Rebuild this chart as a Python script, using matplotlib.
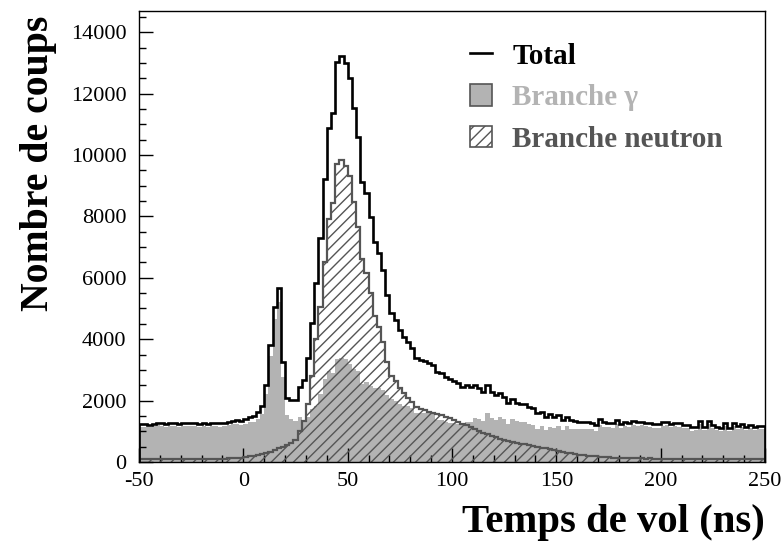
"""Time-of-flight histogram: total, gamma branch and neutron branch."""

import matplotlib
matplotlib.use("Agg")

import numpy as np
import matplotlib.pyplot as plt
from matplotlib.lines import Line2D
from matplotlib.patches import Patch
from matplotlib.ticker import MultipleLocator

# ── Data (2 ns bins from -50 to 250 ns) ──────────────────────────────────────
T_MIN, T_MAX, N_BINS = -50, 250, 150

total = [
    1230, 1240, 1220, 1250, 1280, 1260, 1240, 1260, 1260, 1230,
    1260, 1280, 1260, 1260, 1240, 1260, 1230, 1280, 1280, 1260,
    1280, 1310, 1350, 1370, 1350, 1390, 1475, 1500, 1640, 1830,
    2510, 3800, 5060, 5660, 3270, 2075, 2020, 2020, 2450, 2670,
    3380, 4520, 5820, 7290, 9210, 10870, 11360, 13040, 13230, 12990,
    12500, 11520, 10600, 9130, 8750, 7990, 7175, 6800, 6250, 5440,
    4840, 4625, 4300, 4080, 3920, 3700, 3380, 3320, 3280, 3240,
    3160, 2940, 2900, 2760, 2700, 2640, 2560, 2450, 2510, 2440,
    2500, 2400, 2290, 2500, 2290, 2180, 2240, 2130, 1920, 2040,
    1930, 1880, 1880, 1800, 1750, 1585, 1640, 1475, 1560, 1475,
    1530, 1370, 1475, 1370, 1350, 1310, 1310, 1290, 1260, 1205,
    1390, 1290, 1280, 1260, 1370, 1240, 1310, 1260, 1335, 1290,
    1310, 1280, 1260, 1225, 1225, 1290, 1310, 1240, 1260, 1260,
    1205, 1205, 1130, 1130, 1335, 1130, 1350, 1205, 1150, 1100,
    1280, 1100, 1260, 1170, 1240, 1130, 1205, 1130, 1170, 1170,
]

gamma = [
    1140, 1155, 1125, 1160, 1195, 1170, 1145, 1170, 1170, 1135,
    1170, 1185, 1170, 1165, 1145, 1160, 1130, 1180, 1175, 1155,
    1170, 1195, 1230, 1240, 1210, 1230, 1295, 1300, 1410, 1570,
    2210, 3460, 4670, 5220, 2770, 1515, 1390, 1320, 1450, 1320,
    1480, 1720, 1820, 2230, 2710, 2970, 2910, 3340, 3395, 3340,
    3200, 3040, 2950, 2530, 2600, 2490, 2425, 2400, 2350, 2190,
    2040, 1975, 1900, 1830, 1820, 1750, 1580, 1580, 1590, 1600,
    1570, 1380, 1370, 1290, 1280, 1280, 1250, 1200, 1310, 1300,
    1420, 1390, 1340, 1600, 1430, 1380, 1480, 1410, 1240, 1400,
    1320, 1290, 1310, 1250, 1220, 1085, 1170, 1035, 1150, 1095,
    1180, 1050, 1175, 1090, 1090, 1070, 1090, 1090, 1070, 1025,
    1220, 1130, 1130, 1115, 1230, 1105, 1180, 1135, 1215, 1175,
    1190, 1170, 1145, 1115, 1120, 1180, 1205, 1130, 1160, 1155,
    1095, 1105, 1025, 1030, 1225, 1030, 1245, 1105, 1055, 1000,
    1175, 1005, 1160, 1070, 1145, 1030, 1110, 1030, 1075, 1070,
]

neutron = [
    90, 85, 95, 90, 85, 90, 95, 90, 90, 95,
    90, 95, 90, 95, 95, 100, 100, 100, 105, 105,
    110, 115, 120, 130, 140, 160, 180, 200, 230, 260,
    300, 340, 390, 440, 500, 560, 630, 700, 1000, 1350,
    1900, 2800, 4000, 5060, 6500, 7900, 8450, 9700, 9835, 9650,
    9300, 8480, 7650, 6600, 6150, 5500, 4750, 4400, 3900, 3250,
    2800, 2650, 2400, 2250, 2100, 1950, 1800, 1740, 1690, 1640,
    1590, 1560, 1530, 1470, 1420, 1360, 1310, 1250, 1200, 1140,
    1080, 1010, 950, 900, 860, 800, 760, 720, 680, 640,
    610, 590, 570, 550, 530, 500, 470, 440, 410, 380,
    350, 320, 300, 280, 260, 240, 220, 200, 190, 180,
    170, 160, 150, 145, 140, 135, 130, 125, 120, 115,
    120, 110, 115, 110, 105, 110, 105, 110, 100, 105,
    110, 100, 105, 100, 110, 100, 105, 100, 95, 100,
    105, 95, 100, 100, 95, 100, 95, 100, 95, 100,
]

LABELS = ["Total", "Branche \u03b3", "Branche neutron"]

# ── Style ────────────────────────────────────────────────────────────────────
COLOR_TOTAL = "black"
COLOR_GAMMA = "#b3b3b3"
COLOR_NEUTRON = "#555555"
FONT = ["Liberation Serif", "DejaVu Serif"]

plt.rcParams["font.family"] = FONT
plt.rcParams["axes.unicode_minus"] = False
plt.rcParams["hatch.color"] = COLOR_NEUTRON
plt.rcParams["hatch.linewidth"] = 1.0

edges = np.linspace(T_MIN, T_MAX, N_BINS + 1)

fig = plt.figure(figsize=(7.84, 5.43), dpi=100, facecolor="white")
ax = fig.add_axes([0.1773, 0.1492, 0.7985, 0.8311])

ax.stairs(gamma, edges, fill=True, color=COLOR_GAMMA, linewidth=0, zorder=1)
ax.stairs(neutron, edges, fill=True, facecolor="none", edgecolor=COLOR_NEUTRON,
          hatch="///", linewidth=0, zorder=2)
ax.stairs(neutron, edges, color=COLOR_NEUTRON, linewidth=1.6, zorder=3)
ax.stairs(total, edges, color=COLOR_TOTAL, linewidth=1.9, zorder=4)

ax.set_xlim(T_MIN, T_MAX)
ax.set_ylim(0, 14700)

ax.xaxis.set_major_locator(MultipleLocator(50))
ax.xaxis.set_minor_locator(MultipleLocator(10))
ax.yaxis.set_major_locator(MultipleLocator(2000))
ax.yaxis.set_minor_locator(MultipleLocator(500))
ax.tick_params(which="both", direction="in", top=False, right=False, width=1,
               labelsize=16, colors="black")
ax.tick_params(which="major", length=10)
ax.tick_params(which="minor", length=5)
ax.tick_params(axis="y", pad=9)
ax.tick_params(axis="x", pad=7)
for sp in ax.spines.values():
    sp.set_linewidth(1.0)

ax.set_xlabel("Temps de vol (ns)", fontsize=29.3, fontweight="bold", loc="right")
ax.xaxis.set_label_coords(1.0, -0.094)
ax.set_ylabel("Nombre de coups", fontsize=28.6, fontweight="bold", loc="top")
ax.yaxis.set_label_coords(-0.131, 0.99)

handles = [
    Line2D([], [], color=COLOR_TOTAL, linewidth=1.9),
    Patch(facecolor=COLOR_GAMMA, edgecolor=COLOR_NEUTRON, linewidth=1.2),
    Patch(facecolor="white", edgecolor=COLOR_NEUTRON, hatch="///", linewidth=1.2),
]
leg = ax.legend(handles, LABELS, loc="upper left", bbox_to_anchor=(0.51, 0.955),
                frameon=False, prop={"family": FONT, "weight": "bold", "size": 21},
                handlelength=0.75, handleheight=0.75, handletextpad=0.7,
                labelspacing=0.5, borderaxespad=0,
                labelcolor=[COLOR_TOTAL, COLOR_GAMMA, COLOR_NEUTRON])

fig.savefig("out.png", dpi=100, facecolor="white")
